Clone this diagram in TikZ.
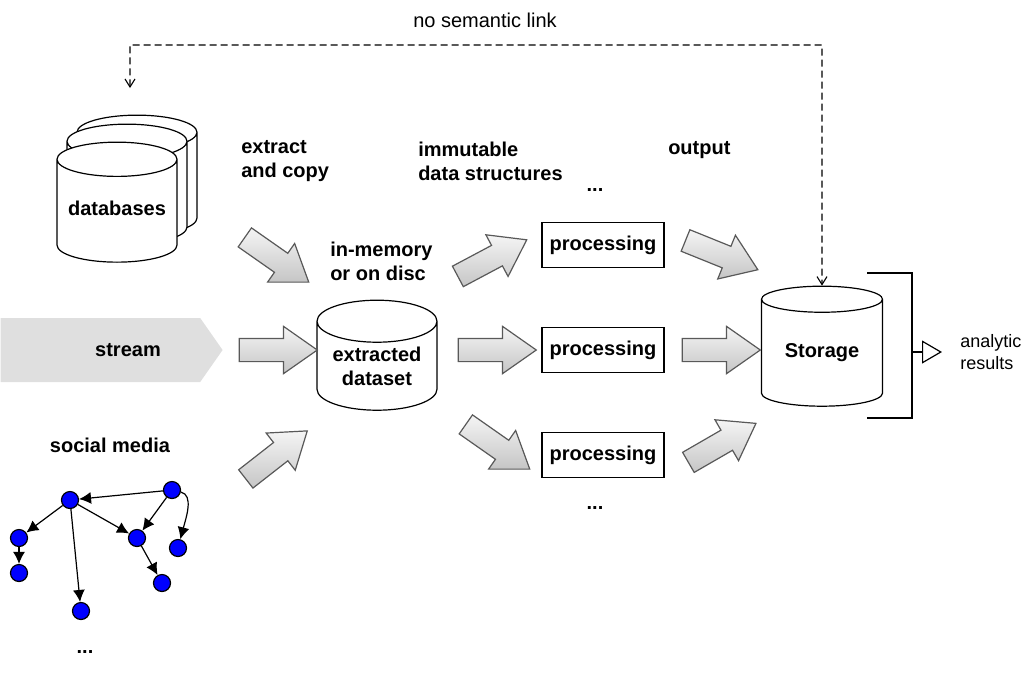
\documentclass[tikz,border=0pt]{standalone}
\usepackage{fontspec}
\setmainfont{Liberation Sans}
\usepackage{tikz}
\usetikzlibrary{positioning,shapes,shapes.geometric,shapes.arrows,shapes.symbols,arrows.meta}
\tikzset{db/.style={cylinder, shape border rotate=90, draw, fill=white, aspect=0.35, inner sep=0pt, minimum width=60pt, minimum height=60pt, font=\bfseries},
         proc/.style={draw, minimum width=61pt, minimum height=22.5pt, inner sep=0pt, font=\bfseries},
         blk/.style={single arrow, draw=gray!70!black, top color=gray!8, bottom color=gray!45, inner sep=5.5pt, single arrow head extend=6pt, single arrow tip angle=70, minimum height=39pt},
         stream/.style={signal, signal to=east, signal pointer angle=110, fill=gray!25, minimum width=111pt, minimum height=32pt, inner sep=0pt},
         lbl/.style={font=\bfseries, align=left},
         dot/.style={circle, draw, fill=blue, inner sep=0pt, minimum size=8.5pt},
         edge/.style={-{Latex[length=6pt,width=6pt]}},
         link/.style={dash pattern=on 3.5pt off 2pt, {Straight Barb[length=4pt,width=5pt]}-{Straight Barb[length=4pt,width=5pt]}, line width=0.55pt}
}

\begin{document}
\begin{tikzpicture}[x=0.5pt,y=-0.5pt,line width=0.6pt,font=\fontsize{10}{11}\selectfont]
    \useasboundingbox (0,0) rectangle (1030,677);

    \node[db] (db3) at (137,184) {\phantom{databases}};
    \node[db] (db2) at (127,193) {\phantom{databases}};
    \node[db] (db1) at (117,211) {\raisebox{3pt}{databases}};
    \node[stream, anchor=west] (st) at (0,350) {};
    \node[lbl] (stl) at (128,350) {stream};

    \node[db, minimum height=55pt, minimum width=59.5pt, align=center] (ds) at (377,366) {\raisebox{-3pt}{\parbox{60pt}{\centering extracted\\dataset}}};
    \node[db, minimum height=60pt, minimum width=60.5pt] (store) at (822,353) {Storage};

    \node[proc] (p1) at (603,245) {processing};
    \node[proc] (p2) at (603,350) {processing};
    \node[proc] (p3) at (603,455) {processing};

    \node[blk, rotate=-35] (a1) at (270,255) {};
    \node[blk] (a2) at (270,350) {};
    \node[blk, rotate=38] (a3) at (270,460) {};
    \node[blk, rotate=28] (b1) at (485,262) {};
    \node[blk] (b2) at (489,350) {};
    \node[blk, rotate=-35] (b3) at (491,442) {};
    \node[blk, rotate=-22] (c1) at (714,252) {};
    \node[blk] (c2) at (713,350) {};
    \node[blk, rotate=30] (c3) at (715,447) {};

    \node[lbl, anchor=west] (ex) at (234,161) {extract\\and copy};
    \node[lbl, anchor=west] (im) at (323,261) {in-memory\\or on disc};
    \node[lbl, anchor=west] (ds2) at (411,161) {immutable\\data structures};
    \node[lbl, anchor=west] (out) at (661,150) {output};
    \node[lbl] (d1) at (595,190) {...};
    \node[lbl] (d2) at (595,508) {...};
    \node[lbl] (d3) at (85,652) {...};
    \node[lbl] (sm) at (110,445) {social media};
    \node[align=left, anchor=west, font=\fontsize{9}{11}\selectfont] (res) at (953,352) {analytic\\results};
    \node (nsl) at (485,20) {no semantic link};

    \coordinate (nl) at (130,88);
    \coordinate (lk) at (822,45);
    \draw[link] (nl) |- (lk) -- (store.north);

    \draw (867,273) -- (912,273) -- (912,418) -- (867,418);
    \coordinate (br) at (912,352);
    \coordinate (tr) at (942,352);
    \draw[-{Triangle[open,length=10pt,width=11.5pt]}] (br) -- (tr);

    \node[dot] (A) at (70,500) {};
    \node[dot] (B) at (172,490) {};
    \node[dot] (C) at (19,538) {};
    \node[dot] (D) at (19,573) {};
    \node[dot] (E) at (81,611) {};
    \node[dot] (F) at (137,538) {};
    \node[dot] (G) at (178,548) {};
    \node[dot] (H) at (162,583) {};

    \draw[edge] (B) -- (A);
    \draw[edge] (A) -- (C);
    \draw[edge] (C) -- (D);
    \draw[edge] (A) -- (E);
    \draw[edge] (A) -- (F);
    \draw[edge] (B) -- (F);
    \draw[edge] (F) -- (H);
    \draw[edge] (B) .. controls +(22,5) and +(8,-30) .. (G);
\end{tikzpicture}
\end{document}
